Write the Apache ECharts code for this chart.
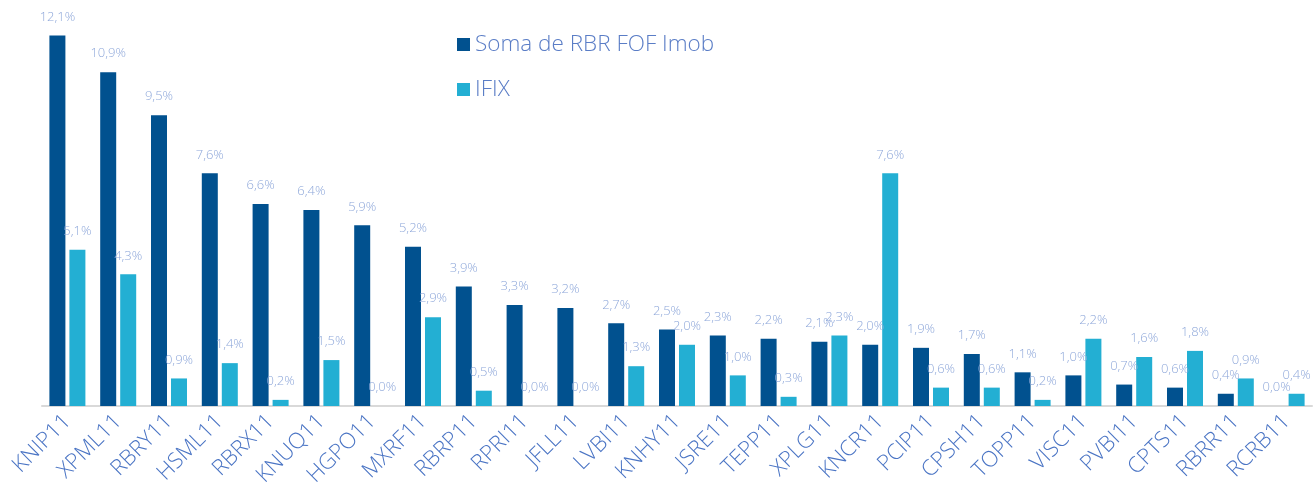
<!DOCTYPE html>
<html>
<head>
<meta charset="utf-8">
<script src="https://cdn.jsdelivr.net/npm/echarts@6/dist/echarts.min.js"></script>
<style>
  html, body { margin: 0; padding: 0; background: #fff; }
  #chart { width: 1314px; height: 497px; }
</style>
</head>
<body>
<div id="chart"></div>
<script>
  // dados
  var categories = ['KNIP11', 'XPML11', 'RBRY11', 'HSML11', 'RBRX11', 'KNUQ11', 'HGPO11', 'MXRF11', 'RBRP11', 'RPRI11',
    'JFLL11', 'LVBI11', 'KNHY11', 'JSRE11', 'TEPP11', 'XPLG11', 'KNCR11', 'PCIP11', 'CPSH11', 'TOPP11',
    'VISC11', 'PVBI11', 'CPTS11', 'RBRR11', 'RCRB11'];
  var fofValues = [12.1, 10.9, 9.5, 7.6, 6.6, 6.4, 5.9, 5.2, 3.9, 3.3,
    3.2, 2.7, 2.5, 2.3, 2.2, 2.1, 2.0, 1.9, 1.7, 1.1,
    1.0, 0.7, 0.6, 0.4, 0.0];
  var ifixValues = [5.1, 4.3, 0.9, 1.4, 0.2, 1.5, 0.0, 2.9, 0.5, 0.0,
    0.0, 1.3, 2.0, 1.0, 0.3, 2.3, 7.6, 0.6, 0.6, 0.2,
    2.2, 1.6, 1.8, 0.9, 0.4];
  var seriesNames = ['Soma de RBR FOF Imob', 'IFIX'];

  var fontFamily = '"Open Sans", "Noto Sans", sans-serif';

  function pct(p) {
    return p.value.toFixed(1).replace('.', ',') + '%';
  }

  var labelStyle = {
    show: true,
    position: 'top',
    distance: 12,
    formatter: pct,
    color: '#8fa8da',
    fontSize: 13,
    fontWeight: 300,
    fontFamily: fontFamily
  };

  var chart = echarts.init(document.getElementById('chart'));
  chart.setOption({
    animation: false,
    grid: {
      left: 42,
      right: 2,
      top: 8,
      bottom: 91,
      containLabel: false
    },
    legend: {
      orient: 'vertical',
      left: 452,
      top: 28,
      icon: 'rect',
      itemWidth: 13,
      itemHeight: 13,
      itemGap: 22,
      data: seriesNames,
      textStyle: {
        color: '#5a7dc6',
        fontSize: 22.5,
        fontWeight: 300,
        fontFamily: fontFamily
      }
    },
    xAxis: {
      type: 'category',
      data: categories,
      axisTick: { show: false },
      axisLine: {
        lineStyle: { color: '#d9d9d9', width: 2 }
      },
      axisLabel: {
        rotate: 45,
        interval: 0,
        margin: 12,
        color: '#4a74c4',
        fontSize: 22,
        fontWeight: 300,
        fontFamily: fontFamily
      }
    },
    yAxis: {
      type: 'value',
      min: 0,
      max: 13,
      show: false,
      splitLine: { show: false }
    },
    series: [
      {
        name: seriesNames[0],
        type: 'bar',
        data: fofValues,
        barWidth: 16,
        barGap: '25%',
        itemStyle: { color: '#01518f' },
        label: labelStyle
      },
      {
        name: seriesNames[1],
        type: 'bar',
        data: ifixValues,
        barWidth: 16,
        itemStyle: { color: '#23afd3' },
        label: labelStyle
      }
    ]
  });
</script>
</body>
</html>
